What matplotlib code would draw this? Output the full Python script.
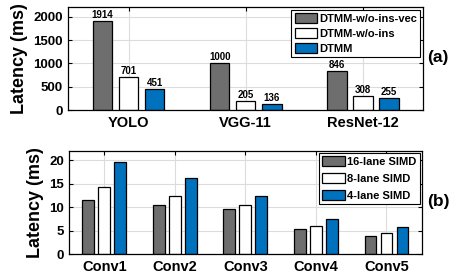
import numpy as np
import matplotlib
matplotlib.use("Agg")
import matplotlib.pyplot as plt

plt.rcParams['font.family'] = ['Liberation Sans', 'DejaVu Sans']
plt.rcParams['font.weight'] = 'bold'

# (a) model latency
models = ['YOLO', 'VGG-11', 'ResNet-12']
series_a = ['DTMM-w/o-ins-vec', 'DTMM-w/o-ins', 'DTMM']
no_ins_vec = [1914, 1000, 846]
no_ins = [701, 205, 308]
dtmm = [451, 136, 255]

# (b) conv layer latency
layers = ['Conv1', 'Conv2', 'Conv3', 'Conv4', 'Conv5']
series_b = ['16-lane SIMD', '8-lane SIMD', '4-lane SIMD']
simd16 = [11.5, 10.5, 9.7, 5.4, 3.9]
simd8 = [14.3, 12.4, 10.5, 6.1, 4.5]
simd4 = [19.7, 16.2, 12.4, 7.5, 5.9]

colors = ['#6e6e6e', '#ffffff', '#0072bd']
width = 0.167

fig = plt.figure(figsize=(4.66, 2.80), dpi=100)
ax1 = fig.add_axes([0.145, 0.606, 0.762, 0.368])
ax2 = fig.add_axes([0.148, 0.092, 0.757, 0.369])


def style(ax, xsize):
    ax.grid(True, color='#dcdcdc', linewidth=0.8)
    ax.set_axisbelow(True)
    ax.tick_params(direction='in', top=True, right=True, length=3,
                   labelsize=9.5, width=0.8)
    ax.tick_params(axis='x', labelsize=xsize, pad=4)
    for lbl in ax.get_xticklabels() + ax.get_yticklabels():
        lbl.set_fontweight('bold')
    for s in ax.spines.values():
        s.set_linewidth(0.9)
    ax.set_ylabel('Latency (ms)', fontsize=13, fontweight='bold', labelpad=4)


def add_legend(ax, spacing):
    leg = ax.legend(loc='upper right', fontsize=8, fancybox=False,
                    edgecolor='black', framealpha=1, handlelength=2.0,
                    handleheight=1.0, borderpad=0.3, labelspacing=spacing,
                    handletextpad=0.2, borderaxespad=0.2)
    leg.get_frame().set_linewidth(0.8)
    for t in leg.get_texts():
        t.set_fontweight('bold')


x = np.arange(1, len(models) + 1)
for i, (vals, name) in enumerate(zip([no_ins_vec, no_ins, dtmm], series_a)):
    bars = ax1.bar(x + (i - 1) * 0.222, vals, width, color=colors[i],
                   edgecolor='black', linewidth=0.9, label=name)
    for b, v in zip(bars, vals):
        ax1.text(b.get_x() + b.get_width() / 2, v + 25, str(v), ha='center',
                 va='bottom', fontsize=7, fontweight='bold')
ax1.set_xlim(0.48, 3.51)
ax1.set_ylim(0, 2200)
ax1.set_yticks([0, 500, 1000, 1500, 2000])
ax1.set_xticks(x)
ax1.set_xticklabels(models)
style(ax1, 10.5)
add_legend(ax1, 0.4)
fig.text(0.94, 0.796, '(a)', fontsize=12.5, fontweight='bold', ha='center',
         va='center')

x2 = np.arange(1, len(layers) + 1)
for i, (vals, name) in enumerate(zip([simd16, simd8, simd4], series_b)):
    ax2.bar(x2 + (i - 1) * 0.227, vals, width, color=colors[i],
            edgecolor='black', linewidth=0.9, label=name)
ax2.set_xlim(0.5, 5.5)
ax2.set_ylim(0, 22)
ax2.set_yticks([0, 5, 10, 15, 20])
ax2.set_xticks(x2)
ax2.set_xticklabels(layers)
style(ax2, 10.5)
add_legend(ax2, 0.55)
fig.text(0.94, 0.279, '(b)', fontsize=12.5, fontweight='bold', ha='center',
         va='center')

fig.savefig('out.png', dpi=100)
